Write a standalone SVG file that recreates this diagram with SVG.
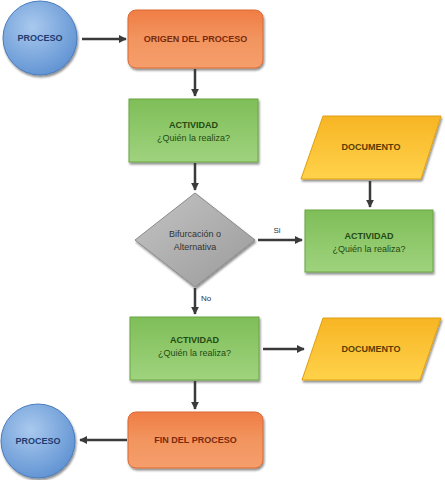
<svg xmlns="http://www.w3.org/2000/svg" width="445" height="480" viewBox="0 0 445 480">
<defs>
  <radialGradient id="gBlue" cx="0.4" cy="0.35" r="0.7">
    <stop offset="0" stop-color="#a9c9ee"/>
    <stop offset="1" stop-color="#5f92d2"/>
  </radialGradient>
  <linearGradient id="gOrange" x1="0" y1="0" x2="0" y2="1">
    <stop offset="0" stop-color="#f07d45"/>
    <stop offset="0.5" stop-color="#f2955f"/>
    <stop offset="1" stop-color="#f59e6c"/>
  </linearGradient>
  <linearGradient id="gGreen" x1="0" y1="0" x2="0" y2="1">
    <stop offset="0" stop-color="#7fbe58"/>
    <stop offset="1" stop-color="#9fd37e"/>
  </linearGradient>
  <linearGradient id="gGray" x1="0" y1="0" x2="1" y2="1">
    <stop offset="0" stop-color="#c4c4c4"/>
    <stop offset="1" stop-color="#9a9a9a"/>
  </linearGradient>
  <linearGradient id="gYellow" x1="0" y1="0" x2="0" y2="1">
    <stop offset="0" stop-color="#f7b524"/>
    <stop offset="1" stop-color="#ffd24a"/>
  </linearGradient>
  <filter id="sh" x="-10%" y="-10%" width="125%" height="130%">
    <feDropShadow dx="1" dy="2" stdDeviation="1" flood-color="#000" flood-opacity="0.45"/>
  </filter>
  <marker id="ah" viewBox="0 0 10 10" refX="9" refY="5" markerWidth="3.2" markerHeight="3.2" orient="auto">
    <path d="M0,0 L10,5 L0,10 z" fill="#3a3a3a"/>
  </marker>
</defs>
<style>
  text { font-family: "Liberation Sans", Arial, sans-serif; font-weight: bold; font-size: 9px; text-anchor: middle; }
  .blue { fill: url(#gBlue); stroke: #4a7dbd; stroke-width: 1; filter: url(#sh); }
  .orange { fill: url(#gOrange); stroke: #d96a35; stroke-width: 1; filter: url(#sh); }
  .green { fill: url(#gGreen); stroke: #6aa544; stroke-width: 1; filter: url(#sh); }
  .gray { fill: url(#gGray); stroke: #8a8a8a; stroke-width: 1; filter: url(#sh); }
  .yellow { fill: url(#gYellow); stroke: #e0a010; stroke-width: 1; filter: url(#sh); }
  .tb { fill: #1f3a6e; }
  .to { fill: #7a2a0c; }
  .tg { fill: #244a12; }
  .tgr { fill: #333333; font-weight: normal; }
  .ty { fill: #5a3c00; }
  .conn line { stroke: #3a3a3a; stroke-width: 2.5; marker-end: url(#ah); }
  .lbl { fill: #333; font-weight: normal; font-size: 8px; }
</style>

<g id="proceso-inicio">
  <circle class="blue" cx="40" cy="38" r="37"/>
  <text class="tb" x="40" y="41">PROCESO</text>
</g>

<g id="origen">
  <rect class="orange" x="128" y="10" width="135" height="58" rx="8"/>
  <text class="to" x="195.5" y="42">ORIGEN DEL PROCESO</text>
</g>

<g id="actividad1">
  <rect class="green" x="129" y="99" width="129" height="63"/>
  <text class="tg" x="193.5" y="128">ACTIVIDAD</text>
  <text class="tg" x="193.5" y="141" style="font-weight:normal">¿Quién la realiza?</text>
</g>

<g id="bifurcacion">
  <polygon class="gray" points="195,193 255,240 195,287 135,240"/>
  <text class="tgr" x="195" y="237">Bifurcación o</text>
  <text class="tgr" x="195" y="250">Alternativa</text>
</g>

<g id="documento1">
  <polygon class="yellow" points="323,116 441,116 421,179 301,179"/>
  <text class="ty" x="371" y="150">DOCUMENTO</text>
</g>

<g id="actividad2">
  <rect class="green" x="305" y="210" width="128" height="62"/>
  <text class="tg" x="369" y="239">ACTIVIDAD</text>
  <text class="tg" x="369" y="252" style="font-weight:normal">¿Quién la realiza?</text>
</g>

<g id="actividad3">
  <rect class="green" x="130" y="317" width="129" height="63"/>
  <text class="tg" x="194.5" y="343">ACTIVIDAD</text>
  <text class="tg" x="194.5" y="356" style="font-weight:normal">¿Quién la realiza?</text>
</g>

<g id="documento2">
  <polygon class="yellow" points="323,318 441,318 420,380 302,380"/>
  <text class="ty" x="371" y="352">DOCUMENTO</text>
</g>

<g id="fin">
  <rect class="orange" x="128" y="412" width="135" height="56" rx="8"/>
  <text class="to" x="195.5" y="443">FIN DEL PROCESO</text>
</g>

<g id="proceso-fin">
  <circle class="blue" cx="38" cy="441" r="37"/>
  <text class="tb" x="38" y="444">PROCESO</text>
</g>

<g id="connectors" class="conn">
  <line x1="82" y1="39" x2="126" y2="39"/>
  <line x1="195" y1="69" x2="195" y2="96"/>
  <line x1="195" y1="163" x2="195" y2="190"/>
  <line x1="258" y1="240" x2="302" y2="240"/>
  <line x1="370" y1="181" x2="370" y2="207"/>
  <line x1="195" y1="288" x2="195" y2="314"/>
  <line x1="263" y1="349" x2="304" y2="349"/>
  <line x1="195" y1="381" x2="195" y2="409"/>
  <line x1="127" y1="440" x2="80" y2="440"/>
</g>
<text class="lbl" x="277" y="233">Si</text>
<text class="lbl" x="206" y="301">No</text>
</svg>
